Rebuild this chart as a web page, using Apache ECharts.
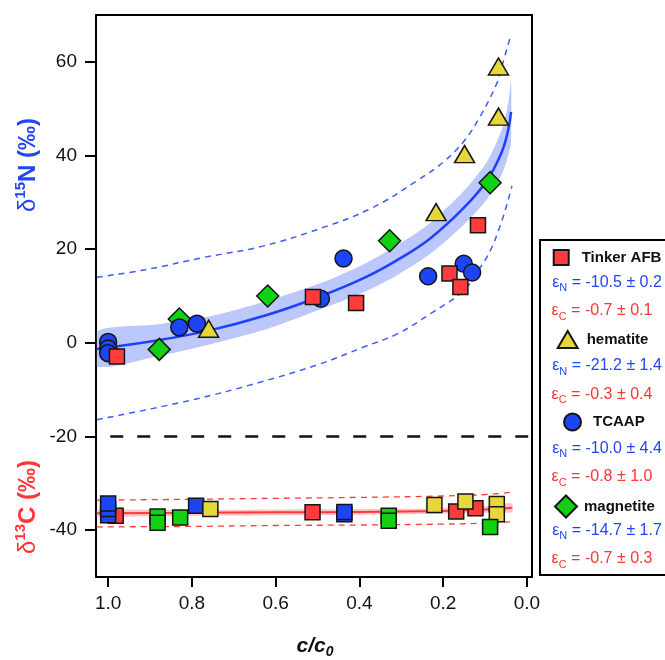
<!DOCTYPE html>
<html>
<head>
<meta charset="utf-8">
<script src="https://cdn.jsdelivr.net/npm/echarts@6/dist/echarts.min.js"></script>
<style>
html, body { margin: 0; padding: 0; background: #fff; }
#chart { width: 665px; height: 660px; }
</style>
</head>
<body>
<div id="chart"></div>
<script>
// d15N points, [c/c0, value]
let tinkerN = [[0.979, -2.9], [0.511, 9.8], [0.408, 8.5], [0.185, 14.8], [0.159, 11.9], [0.117, 25.1]];
let hematiteN = [[0.76, 3.0], [0.217, 27.9], [0.149, 40.3], [0.068, 48.3], [0.068, 59.0]];
let tcaapN = [[1.0, 0.2], [1.0, -1.2], [1.0, -2.2], [0.83, 3.3], [0.788, 4.1], [0.492, 9.4], [0.438, 18.0], [0.236, 14.2], [0.151, 16.9], [0.131, 15.0]];
let magnetiteN = [[0.878, -1.4], [0.83, 5.1], [0.619, 10.0], [0.328, 21.8], [0.088, 34.2]];

// d13C points
let tinkerC = [[0.982, -36.9], [0.512, -36.2], [0.169, -36.0], [0.123, -35.3]];
let hematiteC = [[0.756, -35.5], [0.221, -34.6], [0.147, -33.9], [0.072, -34.4], [0.072, -36.6]];
let tcaapC = [[1.0, -36.8], [1.0, -35.5], [1.0, -34.3], [0.79, -34.8], [0.436, -36.6], [0.436, -36.1]];
let magnetiteC = [[0.882, -37.1], [0.882, -38.4], [0.828, -37.3], [0.330, -36.9], [0.330, -38.0], [0.088, -39.3]];

// fitted N curve, band and prediction lines
let nFitX = [1.027, 0.884, 0.76, 0.619, 0.494, 0.39, 0.311, 0.231, 0.151, 0.096, 0.06, 0.044, 0.038];
let nFit = [-1.3, 0.5, 2.6, 6.0, 9.9, 13.8, 17.6, 22.3, 28.8, 34.6, 40.8, 45.8, 49.3];
let nBandHi = [2.4, 3.9, 5.6, 9.0, 12.7, 16.8, 20.8, 25.6, 32.4, 38.6, 45.6, 51.6, 56.0];
let nBandLo = [-5.0, -2.9, -0.4, 3.0, 7.1, 10.8, 14.4, 19.0, 25.2, 30.6, 36.0, 40.2, 43.0];
let nUpX = [1.027, 0.912, 0.768, 0.633, 0.494, 0.37, 0.263, 0.2, 0.151, 0.112, 0.072, 0.06, 0.038];
let nUp = [14.0, 15.6, 18.3, 20.6, 24.4, 28.8, 34.6, 38.6, 43.0, 48.3, 55.4, 59.0, 65.9];
let nLoX = [1.027, 0.8, 0.633, 0.494, 0.39, 0.31, 0.231, 0.151, 0.112, 0.088, 0.064, 0.048, 0.036];
let nLo = [-16.4, -12.2, -8.3, -4.5, -0.9, 1.9, 6.2, 11.2, 16.0, 19.6, 25.0, 29.5, 33.5];

// fitted C curve
let cFitX = [1.027, 0.8, 0.6, 0.4, 0.2, 0.1, 0.036];
let cFit = [-36.4, -36.3, -36.2, -36.1, -35.9, -35.6, -35.2];
let cBandHi = [-35.8, -35.7, -35.6, -35.5, -35.3, -34.9, -34.3];
let cBandLo = [-37.0, -36.9, -36.8, -36.7, -36.5, -36.3, -36.1];
let cUp = [-33.6, -33.4, -33.2, -33.0, -32.7, -32.4, -31.9];
let cLo = [-39.3, -39.2, -39.0, -38.9, -38.7, -38.5, -38.2];

// divider
let dividerX = [0.995, -0.012];
let dividerY = -20;

let xTicks = [0, 0.2, 0.4, 0.6, 0.8, 1.0];
let yTicks = [-40, -20, 0, 20, 40, 60];

// legend text
let epsN = ['-10.5 ± 0.2', '-21.2 ± 1.4', '-10.0 ± 4.4', '-14.7 ± 1.7'];
let epsC = ['-0.7 ± 0.1', '-0.3 ± 0.4', '-0.8 ± 1.0', '-0.7 ± 0.3'];

const FONT = '"Liberation Sans", Arial, Helvetica, sans-serif';
const BLUE = '#2346f2';
const RED = '#ff3434';
const colRed = '#ff3b3b', colYellow = '#e6d83a', colBlue = '#1d44f5', colGreen = '#12d012';

function zip(xs, ys) {
    return xs.map((x, i) => [x, ys[i]]);
}

function pointSeries(name, data, symbol, size, color, z) {
    return {
        name: name,
        type: 'scatter',
        data: data,
        symbol: symbol,
        symbolSize: size,
        z: z,
        itemStyle: { color: color, borderColor: '#151515', borderWidth: 1.5, opacity: 1 },
        emphasis: { disabled: true },
        silent: true
    };
}

function lineSeries(xs, ys, color, width, type, z) {
    return {
        type: 'line',
        data: zip(xs, ys),
        smooth: 0.4,
        showSymbol: false,
        symbol: 'none',
        z: z,
        lineStyle: { color: color, width: width, type: type },
        silent: true
    };
}

// shaded confidence band as one polygon through the axis scales
function bandSeries(xs, lo, hi, color) {
    return {
        type: 'custom',
        data: [[xs[0], lo[0]]],
        z: 1,
        silent: true,
        renderItem: function (params, api) {
            let cs = params.coordSys;
            let pts = [];
            for (let i = 0; i < xs.length; i++) pts.push(api.coord([xs[i], hi[i]]));
            for (let i = xs.length - 1; i >= 0; i--) pts.push(api.coord([xs[i], lo[i]]));
            return {
                type: 'polygon',
                shape: {
                    points: pts,
                    smooth: 0.25,
                    smoothConstraint: [[cs.x + 1, cs.y], [cs.x + cs.width, cs.y + cs.height]]
                },
                style: { fill: color }
            };
        }
    };
}

let chart = echarts.init(document.getElementById('chart'));

// legend rows
let legendRows = [
    { name: 'Tinker AFB', left: 552.7, top: 249, w: 15, h: 15, pad: 8, eps: 282.5 },
    { name: 'hematite', left: 556.7, top: 330, w: 20, h: 17, pad: 4, eps: 366 },
    { name: 'TCAAP', left: 563, top: 412.5, w: 17, h: 17, pad: 7, eps: 448.5 },
    { name: 'magnetite', left: 554, top: 494.5, w: 22, h: 22, pad: 2, eps: 530.5 }
];

let legends = legendRows.map(r => ({
    data: [r.name],
    left: r.left,
    top: r.top,
    padding: 0,
    itemWidth: r.w,
    itemHeight: r.h,
    selectedMode: false,
    textStyle: { fontFamily: FONT, fontSize: 15, fontWeight: 'bold', color: '#111', padding: [0, 0, 0, r.pad] }
}));

let graphics = [{
    type: 'rect',
    shape: { x: 540, y: 240, width: 140, height: 335 },
    style: { fill: 'none', stroke: '#000', lineWidth: 2 },
    z: 10
}];

legendRows.forEach((r, i) => {
    graphics.push({
        type: 'text',
        x: 607, y: r.eps,
        style: {
            text: '{e|ε}{s|N}{e| = ' + epsN[i] + '}',
            align: 'center', verticalAlign: 'middle',
            fill: BLUE,
            rich: {
                e: { fontFamily: FONT, fontSize: 16, lineHeight: 22, fill: BLUE, verticalAlign: 'middle' },
                s: { fontFamily: FONT, fontSize: 11, lineHeight: 12, fill: BLUE, verticalAlign: 'bottom' }
            }
        },
        z: 10
    });
    graphics.push({
        type: 'text',
        x: 602, y: r.eps + 28.5,
        style: {
            text: '{e|ε}{s|C}{e| = ' + epsC[i] + '}',
            align: 'center', verticalAlign: 'middle',
            fill: RED,
            rich: {
                e: { fontFamily: FONT, fontSize: 16, lineHeight: 22, fill: RED, verticalAlign: 'middle' },
                s: { fontFamily: FONT, fontSize: 11, lineHeight: 12, fill: RED, verticalAlign: 'bottom' }
            }
        },
        z: 10
    });
});

// axis titles
function axisTitle(x, y, iso, elem, color) {
    return {
        type: 'text',
        x: x, y: y,
        rotation: Math.PI / 2,
        style: {
            text: '{d|δ}{s|' + iso + '}{b|' + elem + ' (‰)}',
            align: 'center', verticalAlign: 'middle',
            rich: {
                d: { fontFamily: FONT, fontSize: 24, lineHeight: 30, fill: color, verticalAlign: 'middle' },
                s: { fontFamily: FONT, fontSize: 15, fontWeight: 'bold', lineHeight: 15, fill: color, verticalAlign: 'top' },
                b: { fontFamily: FONT, fontSize: 24, fontWeight: 'bold', lineHeight: 30, fill: color, verticalAlign: 'middle' }
            }
        }
    };
}
graphics.push(axisTitle(28, 165, '15', 'N', BLUE));
graphics.push(axisTitle(28, 507, '13', 'C', RED));
graphics.push({
    type: 'text',
    x: 315, y: 646,
    style: {
        text: '{b|c/c}{s|0}',
        align: 'center', verticalAlign: 'middle',
        rich: {
            b: { fontFamily: FONT, fontSize: 21, fontWeight: 'bold', fontStyle: 'italic', lineHeight: 26, fill: '#111', verticalAlign: 'middle' },
            s: { fontFamily: FONT, fontSize: 14, fontWeight: 'bold', fontStyle: 'italic', lineHeight: 14, fill: '#111', verticalAlign: 'bottom' }
        }
    }
});

let series = [
    bandSeries(nFitX, nBandLo, nBandHi, '#bcc8fb'),
    bandSeries(cFitX, cBandLo, cBandHi, '#ffc4c4'),
    lineSeries(nFitX, nFit, '#1e40ff', 2.5, 'solid', 3),
    lineSeries(nUpX, nUp, '#3b5cff', 1.5, [6, 5], 3),
    lineSeries(nLoX, nLo, '#3b5cff', 1.5, [6, 5], 3),
    lineSeries(cFitX, cFit, '#ff3a3a', 2, 'solid', 3),
    lineSeries(cFitX, cUp, '#ff3a3a', 1.3, [6, 5], 3),
    lineSeries(cFitX, cLo, '#ff3a3a', 1.3, [6, 5], 3),
    {
        type: 'line',
        data: dividerX.map(x => [x, dividerY]),
        symbol: 'none',
        z: 3,
        lineStyle: { color: '#111', width: 2.5, type: [13, 14] },
        silent: true
    },
    pointSeries('magnetite', magnetiteN, 'diamond', [22, 22], colGreen, 5),
    pointSeries('TCAAP', tcaapN, 'circle', 17, colBlue, 6),
    pointSeries('Tinker AFB', tinkerN, 'rect', 15, colRed, 7),
    pointSeries('hematite', hematiteN, 'triangle', [20, 17], colYellow, 8),
    pointSeries('Tinker AFB C', tinkerC, 'rect', 15, colRed, 5),
    pointSeries('TCAAP C', tcaapC, 'rect', 15, colBlue, 6),
    pointSeries('hematite C', hematiteC, 'rect', 15, colYellow, 7),
    pointSeries('magnetite C', magnetiteC, 'rect', 15, colGreen, 8)
];

let options = {
    backgroundColor: '#fff',
    animation: false,
    grid: {
        left: 96, right: 133, top: 15, bottom: 83,
        show: true, borderColor: '#000', borderWidth: 2, backgroundColor: 'transparent'
    },
    xAxis: {
        type: 'value',
        min: -0.012,
        max: 1.029,
        inverse: true,
        axisLine: { show: true, onZero: false, lineStyle: { color: '#000', width: 2 } },
        axisTick: { show: true, length: 10, customValues: xTicks, lineStyle: { color: '#000', width: 2 } },
        axisLabel: {
            customValues: xTicks,
            formatter: v => v.toFixed(1),
            fontFamily: FONT, fontSize: 19, color: '#111', margin: 17
        },
        splitLine: { show: false }
    },
    yAxis: {
        type: 'value',
        min: -50,
        max: 70,
        axisLine: { show: true, onZero: false, lineStyle: { color: '#000', width: 2 } },
        axisTick: { show: true, length: 11, customValues: yTicks, lineStyle: { color: '#000', width: 2 } },
        axisLabel: {
            customValues: yTicks,
            fontFamily: FONT, fontSize: 19, color: '#111', margin: 19
        },
        splitLine: { show: false }
    },
    legend: legends,
    graphic: graphics,
    series: series
};
chart.setOption(options);
</script>
</body>
</html>
